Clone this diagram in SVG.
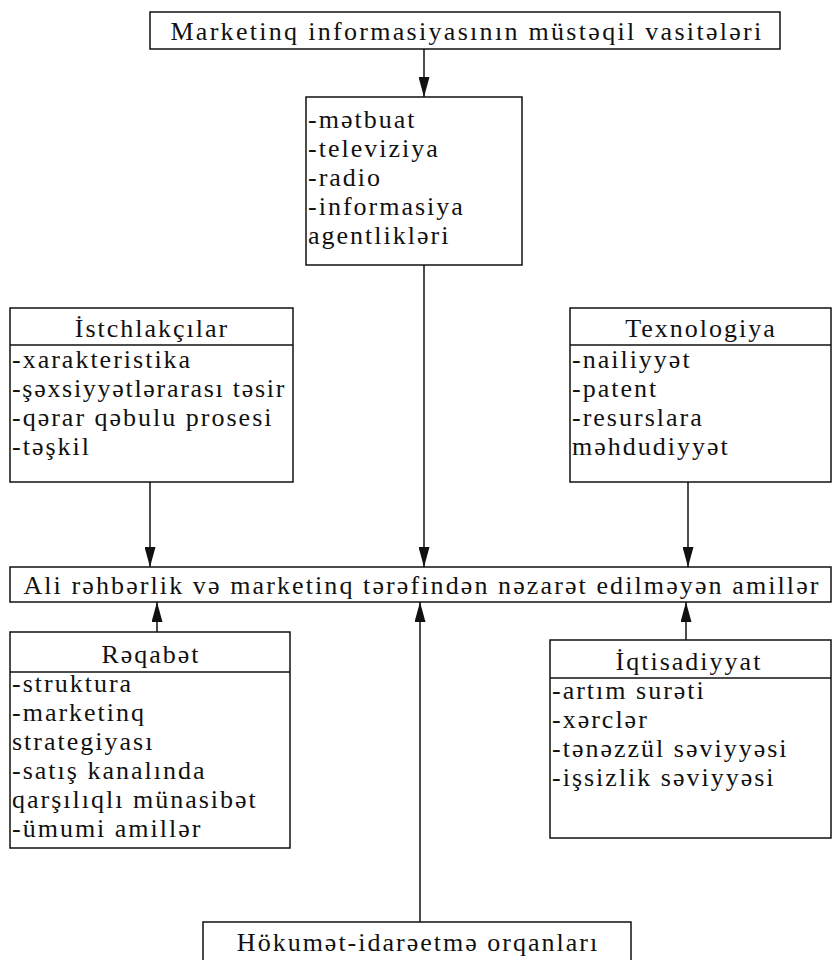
<svg xmlns="http://www.w3.org/2000/svg" width="832" height="960" viewBox="0 0 832 960">
  <style>
    .box { fill: #fff; stroke: #111; stroke-width: 1.5; }
    .div { stroke: #111; stroke-width: 1.5; }
    .t { font-family: "Liberation Serif", "Times New Roman", serif; font-size: 26px; letter-spacing: 2px; fill: #111; }
    .c { text-anchor: middle; }
    .title { letter-spacing: 2.3px; }
    .bar { letter-spacing: 2.1px; }
    .tight { letter-spacing: 1.7px; }
    .link { stroke: #111; stroke-width: 1.5; fill: none; marker-end: url(#arrow); }
  </style>
  <defs>
    <!-- long, narrow filled arrowhead -->
    <marker id="arrow" viewBox="0 0 20 11" refX="20" refY="5.5" markerWidth="20" markerHeight="11" markerUnits="userSpaceOnUse" orient="auto">
      <path d="M0,0 L20,5.5 L0,11 Z" fill="#111"/>
    </marker>
  </defs>
  <rect width="832" height="960" fill="#fff"/>

  <g id="connectors">
    <line class="link" x1="424" y1="49" x2="424" y2="97"/>
    <line class="link" x1="424" y1="265" x2="424" y2="567"/>
    <line class="link" x1="150" y1="482" x2="150" y2="567"/>
    <line class="link" x1="688" y1="482" x2="688" y2="567"/>
    <line class="link" x1="157" y1="632" x2="157" y2="602"/>
    <line class="link" x1="686" y1="640" x2="686" y2="602"/>
    <line class="link" x1="420" y1="922" x2="420" y2="602"/>
  </g>

  <g id="sources">
    <rect class="box" x="150" y="12" width="630" height="37"/>
    <text class="t c title" x="467" y="40">Marketinq informasiyasının müstəqil vasitələri</text>
  </g>

  <g id="media">
    <rect class="box" x="306" y="97" width="216" height="168"/>
    <text class="t" x="308" y="128">-mətbuat</text>
    <text class="t" x="308" y="157">-televiziya</text>
    <text class="t" x="308" y="186">-radio</text>
    <text class="t" x="308" y="215">-informasiya</text>
    <text class="t" x="308" y="244">agentlikləri</text>
  </g>

  <g id="consumers">
    <rect class="box" x="10" y="308" width="283" height="174"/>
    <line class="div" x1="10" y1="345" x2="293" y2="345"/>
    <text class="t c" x="152" y="337">İstchlakçılar</text>
    <text class="t" x="12" y="368">-xarakteristika</text>
    <text class="t tight" x="12" y="397">-şəxsiyyətlərarası təsir</text>
    <text class="t" x="12" y="426">-qərar qəbulu prosesi</text>
    <text class="t" x="12" y="455">-təşkil</text>
  </g>

  <g id="technology">
    <rect class="box" x="570" y="308" width="261" height="174"/>
    <line class="div" x1="570" y1="345" x2="831" y2="345"/>
    <text class="t c" x="701" y="337">Texnologiya</text>
    <text class="t" x="572" y="368">-nailiyyət</text>
    <text class="t" x="572" y="397">-patent</text>
    <text class="t" x="572" y="426">-resurslara</text>
    <text class="t" x="572" y="455">məhdudiyyət</text>
  </g>

  <g id="factors">
    <rect class="box" x="10" y="567" width="821" height="35"/>
    <text class="t c bar" x="422" y="594">Ali rəhbərlik və marketinq tərəfindən nəzarət edilməyən amillər</text>
  </g>

  <g id="competition">
    <rect class="box" x="10" y="632" width="280" height="216"/>
    <line class="div" x1="10" y1="672" x2="290" y2="672"/>
    <text class="t c" x="151" y="663">Rəqabət</text>
    <text class="t" x="12" y="692">-struktura</text>
    <text class="t" x="12" y="721">-marketinq</text>
    <text class="t" x="12" y="750">strategiyası</text>
    <text class="t" x="12" y="779">-satış kanalında</text>
    <text class="t" x="12" y="808">qarşılıqlı münasibət</text>
    <text class="t" x="12" y="837">-ümumi amillər</text>
  </g>

  <g id="economy">
    <rect class="box" x="550" y="640" width="281" height="198"/>
    <line class="div" x1="550" y1="678" x2="831" y2="678"/>
    <text class="t c" x="689" y="670">İqtisadiyyat</text>
    <text class="t" x="552" y="699">-artım surəti</text>
    <text class="t" x="552" y="728">-xərclər</text>
    <text class="t" x="552" y="757">-tənəzzül səviyyəsi</text>
    <text class="t" x="552" y="786">-işsizlik səviyyəsi</text>
  </g>

  <g id="government">
    <rect class="box" x="203" y="922" width="428" height="40"/>
    <text class="t c" x="418" y="951">Hökumət-idarəetmə orqanları</text>
  </g>
</svg>
